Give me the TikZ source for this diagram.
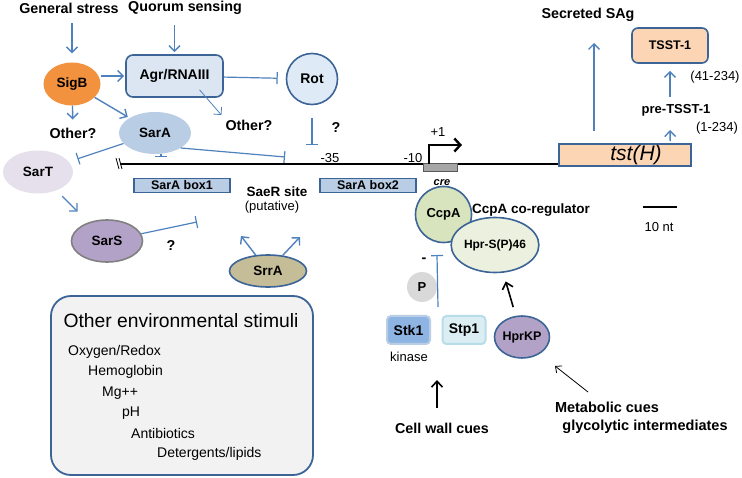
\documentclass[tikz,border=0pt]{standalone}
\usepackage{fontspec}
\setmainfont{Liberation Sans}
\usepackage{tikz}
\usetikzlibrary{calc,arrows.meta,positioning,shapes.geometric}
\definecolor{arrowblue}{RGB}{79,129,189}
\definecolor{edgeblue}{RGB}{60,100,150}
\definecolor{sigorange}{RGB}{242,146,62}
\definecolor{sarafill}{RGB}{185,205,229}
\definecolor{sartfill}{RGB}{230,224,236}
\definecolor{sarsfill}{RGB}{179,162,199}
\definecolor{srrafill}{RGB}{196,189,151}
\definecolor{agrfill}{RGB}{220,230,242}
\definecolor{rotfill}{RGB}{222,235,247}
\definecolor{ccpafill}{RGB}{215,228,189}
\definecolor{hprfill}{RGB}{235,241,222}
\definecolor{pgray}{RGB}{217,217,217}
\definecolor{stkfill}{RGB}{142,180,227}
\definecolor{stkedge}{RGB}{185,205,229}
\definecolor{stpfill}{RGB}{219,238,244}
\definecolor{stpedge}{RGB}{183,222,232}
\definecolor{tstfill}{RGB}{252,213,181}
\definecolor{envgray}{RGB}{242,242,242}
\definecolor{cregray}{RGB}{166,166,166}

\begin{document}
\begin{tikzpicture}[x=1pt,y=-1pt]

\tikzset{lbl/.style={font=\fontsize{13.5}{15}\selectfont\bfseries,inner sep=0pt},
cue/.style={font=\fontsize{14.3}{16}\selectfont\bfseries,inner sep=0pt},
plain/.style={font=\fontsize{13}{15}\selectfont,inner sep=0pt},
envitem/.style={font=\fontsize{14}{16}\selectfont,inner sep=0pt,anchor=west},
prot/.style={shape=ellipse,inner sep=0pt,font=\fontsize{13.5}{15}\selectfont\bfseries},
rim/.style={draw=edgeblue,line width=1.6pt},
site/.style={rim,fill=sarafill,minimum width=96pt,minimum height=14pt,inner sep=0pt,font=\fontsize{12.5}{14}\selectfont\bfseries},
act/.style={draw=arrowblue,line width=1.4pt,-{Straight Barb[length=5.5pt,width=11pt]}},
inh/.style={draw=arrowblue,line width=1.2pt,-{Bar[width=12pt]}},
blackact/.style={draw=black,line width=1.6pt,-{Straight Barb[length=6pt,width=11pt]}}}

\useasboundingbox (0,0) rectangle (742,478);

% Signals on top
\node[cue] (stress) at (69,8) {General stress};
\node[cue] (quorum) at (185,8) {Quorum sensing};
\node[cue] (secreted) at (588,15) {Secreted SAg};

% Regulators
\node[prot,fill=sigorange,minimum width=57,minimum height=43] (sigb) at (72,84) {SigB};
\node[rim,fill=agrfill,rounded corners=7pt,minimum width=97,minimum height=42,inner sep=0pt,font=\fontsize{14}{15}\selectfont\bfseries] (agr) at (174.5,76) {Agr/RNAIII};
\node[circle,rim,fill=rotfill,minimum size=51,inner sep=0pt,font=\fontsize{14}{15}\selectfont\bfseries] (rot) at (312,79) {Rot};
\node[prot,fill=sarafill,minimum width=72,minimum height=42] (sara) at (155,133) {SarA};
\node[prot,fill=sartfill,minimum width=70,minimum height=43] (sart) at (38,172) {SarT};
\node[prot,draw=gray,line width=1.6pt,fill=sarsfill,minimum width=71,minimum height=42] (sars) at (107,241) {SarS};
\node[prot,rim,fill=srrafill,minimum width=77,minimum height=32] (srra) at (268,271) {SrrA};

\node[cue] (otherL) at (73,133) {Other?};
\node[cue] (otherR) at (249,125) {Other?};
\node[cue] (qrot) at (336,128) {?};
\node[cue] (qsars) at (171,246) {?};

% DNA and promoter
\coordinate (dnaL) at (120,164);
\node[rim,fill=tstfill,minimum width=132,minimum height=22,inner sep=0pt,font=\fontsize{21}{24}\selectfont\itshape] (tst) at (625,155) {\hspace*{22pt}tst(H)};
\draw[line width=1.8pt] (dnaL) -- (dnaL -| tst.west);
\draw[line width=0.8pt] ($(dnaL)+(-4,-6)$) -- ($(dnaL)+(-1,5)$) ($(dnaL)+(-1,-6)$) -- ($(dnaL)+(2,5)$);
\node[plain] (m35) at (330,158) {-35};
\node[plain] (m10) at (413,158) {-10};
\node[draw=black!65,fill=cregray,line width=1pt,minimum width=34,minimum height=8,inner sep=0pt] (cre) at (440,168) {};
\node[font=\fontsize{11}{13}\selectfont\bfseries\itshape,inner sep=0pt] (crelbl) at (442,183) {cre};
\coordinate (tss) at (429,164);
\draw[line width=2.4pt,-{Straight Barb[length=6pt,width=13pt]}] (tss) -- ++(0,-19) -- ++(33,0);
\node[plain] (plus1) at (438,132) {+1};

\node[site] (box1) at (182,185.5) {SarA box1};
\node[site] (box2) at (368,185.5) {SarA box2};
\node[lbl] (saer) at (277,192) {SaeR site};
\node[plain] (putative) at (272,207) {(putative)};

% Other environmental stimuli
\node[rim,line width=1.8pt,fill=envgray,rounded corners=20pt,minimum width=262,minimum height=179] (envbox) at (182,385.5) {};
\node[font=\fontsize{19.3}{22}\selectfont,inner sep=0pt] (envtitle) at (181,321) {Other environmental stimuli};
\node[envitem] (oxy) at (68,352) {Oxygen/Redox};
\node[envitem] (hemo) at (88,372) {Hemoglobin};
\node[envitem] (mg) at (102,393) {Mg++};
\node[envitem] (ph) at (122,413) {pH};
\node[envitem] (antib) at (131,433) {Antibiotics};
\node[envitem] (deterg) at (157,454) {Detergents/lipids};

% CcpA side
\node[circle,rim,fill=ccpafill,minimum size=56,inner sep=0pt,font=\fontsize{13}{15}\selectfont\bfseries] (ccpa) at (443.5,214.5) {CcpA};
\node[lbl] (coreg) at (531,210) {CcpA co-regulator};
\node[prot,rim,fill=hprfill,minimum width=71,minimum height=55,font=\fontsize{12}{14}\selectfont\bfseries] (hpr) at (495,245) {Hpr-S(P)46};
\node[circle,fill=pgray,minimum size=30,inner sep=0pt,font=\fontsize{13}{15}\selectfont\bfseries] (phos) at (422,287) {P};
\node[cue] (minus) at (424,260) {-};
\node[draw=stkedge,line width=2pt,fill=stkfill,rounded corners=4pt,minimum width=43,minimum height=28,inner sep=0pt,font=\fontsize{14}{16}\selectfont\bfseries] (stk1) at (408.5,330) {Stk1};
\node[draw=stpedge,line width=2pt,fill=stpfill,rounded corners=4pt,minimum width=43,minimum height=28,inner sep=0pt,font=\fontsize{14}{16}\selectfont\bfseries] (stp1) at (464,330) {Stp1};
\node[plain] (kinase) at (409,357) {kinase};
\node[prot,rim,fill=sarsfill,minimum width=49,minimum height=42,font=\fontsize{12.5}{14}\selectfont\bfseries] (hprkp) at (522,337) {HprKP};
\node[cue] (cellwall) at (442,428) {Cell wall cues};
\node[cue,font=\fontsize{14.5}{16}\selectfont\bfseries] (metab) at (607,407) {Metabolic cues};
\node[cue,font=\fontsize{14.5}{16}\selectfont\bfseries] (glyco) at (645,427) {glycolytic intermediates};

% TSST-1 product
\node[rim,fill=tstfill,rounded corners=6pt,minimum width=76,minimum height=35,inner sep=0pt,font=\fontsize{12.5}{14}\selectfont\bfseries] (tsst) at (670,45.5) {TSST-1};
\node[lbl,font=\fontsize{13}{15}\selectfont\bfseries] (pretsst) at (676,110) {pre-TSST-1};
\node[plain] (full) at (715,77) {(41-234)};
\node[plain] (mature) at (717,128) {(1-234)};

% Scale bar
\coordinate (scaleL) at (643,207);
\draw[line width=2.4pt] (scaleL) -- ++(34,0);
\node[plain] (scalelbl) at (659,227) {10 nt};

% Edges
\coordinate (rotbar) at (312,145);
\coordinate (sarabar1) at (161,157);
\coordinate (sarabar2) at (285,157);
\coordinate (sarsbar) at (197,222);
\coordinate (srraL) at (241,236);
\coordinate (srraR) at (300,237);
\coordinate (ccpabar) at (437,255);
\coordinate (sagfoot) at (594,131);
\coordinate (sagtip) at (594,43);
\coordinate (wallfoot) at (437,408);
\coordinate (walltip) at (437,380);
\coordinate (metabfoot) at (588,392);
\coordinate (metabtip) at (555,366);

\draw[act,shorten <=10pt,shorten >=9pt] (stress.south -| sigb) -- (sigb);
\draw[act,shorten <=10pt,shorten >=2pt] (quorum.south -| agr) -- (agr.north);
\draw[act,shorten >=1pt] (sigb.east |- agr.west) -- (agr.west);
\draw[inh,shorten >=8pt] (agr) -- (rot);
\draw[act,line width=0.8pt,shorten >=6pt] ($(agr.south)+(25,-8)$) -- (otherR.north west);
\draw[inh,shorten <=13pt] (rot) -- (rotbar);
\draw[act,shorten >=8pt] (sigb) -- (otherL);
\draw[act,shorten >=2pt] (sigb) -- (sara);
\draw[inh,shorten >=9pt] (sara) -- (sart);
\draw[inh] (sara.south -| sarabar1) -- (sarabar1);
\draw[inh] (sara.south east) -- (sarabar2);
\draw[act,shorten <=8pt,shorten >=15pt] (sart) -- (sars);
\draw[inh] (sars) -- (sarsbar);
\draw[act] (srra) -- (srraL);
\draw[act] (srra) -- (srraR);
\draw[inh] ($(stk1.north east)+(7,-8)$) -- (ccpabar);
\draw[blackact,shorten <=9pt,shorten >=9pt] (hprkp) -- (hpr);
\draw[draw=black,line width=0.8pt,-{Straight Barb[length=5pt,width=9pt]}] (metabfoot) -- (metabtip);
\draw[blackact] (wallfoot) -- (walltip);
\draw[act] (sagfoot) -- (sagtip);
\draw[act,shorten <=7pt,shorten >=7pt] (pretsst.north -| tsst) -- (tsst.south);
\draw[act,shorten >=14pt] ($(tst.north west)+(112,-2)$) -- (pretsst.south -| tsst);

\end{tikzpicture}
\end{document}
